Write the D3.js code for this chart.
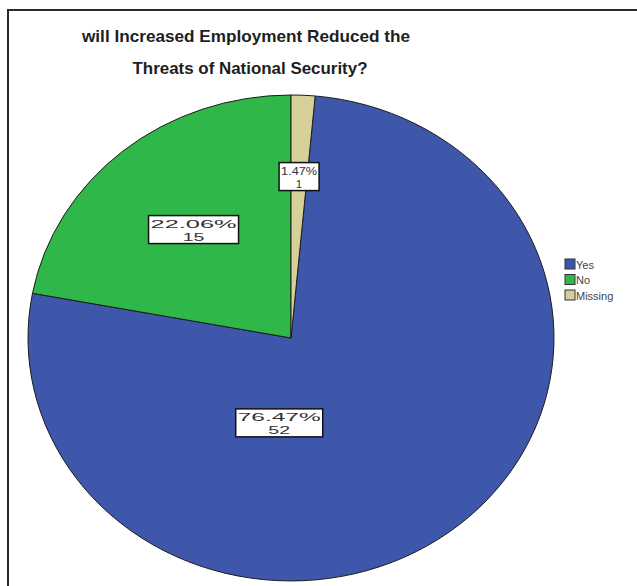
<!DOCTYPE html>
<html>
<head>
<meta charset="utf-8">
<script src="https://cdn.jsdelivr.net/npm/d3@7"></script>
<style>
  html, body { margin: 0; padding: 0; background: #fff; }
  svg { display: block; }
  text { font-family: Arial, "Liberation Sans", sans-serif; }
</style>
</head>
<body>
<script>
// Survey responses
const categories = ["Yes", "No", "Missing"];
const counts = [52, 15, 1];
const percentLabels = ["76.47%", "22.06%", "1.47%"];
const colors = ["#3e57ab", "#2fb74a", "#d7cf98"];
const titleLines = ["will Increased Employment Reduced the", "Threats of National Security?"];

const W = 637, H = 586;
const svg = d3.select("body").append("svg").attr("width", W).attr("height", H);

// frame
svg.append("rect")
  .attr("x", 8).attr("y", 10).attr("width", W + 20).attr("height", H + 20)
  .attr("fill", "#fff").attr("stroke", "#2a2a2a").attr("stroke-width", 2);

// title
const titleLayout = [{ cx: 246, y: 42, len: 328 }, { cx: 250, y: 74, len: 235 }];
svg.selectAll("text.title").data(titleLines).join("text")
  .attr("class", "title")
  .attr("x", (d, i) => titleLayout[i].cx - titleLayout[i].len / 2)
  .attr("y", (d, i) => titleLayout[i].y)
  .attr("textLength", (d, i) => titleLayout[i].len)
  .attr("lengthAdjust", "spacingAndGlyphs")
  .attr("font-size", 16.5).attr("font-weight", "bold").attr("fill", "#1e1e1e")
  .text(d => d);

// pie (drawn on a unit circle, stretched into an ellipse)
const cx = 291, cy = 338, rx = 263, ry = 243;
const total = d3.sum(counts);
const offset = 2 * Math.PI * counts[2] / total; // "Missing" sits just right of 12 o'clock
const pie = d3.pie().sort(null).value(d => d.value)
  .startAngle(offset).endAngle(2 * Math.PI + offset);
const data = categories.map((c, i) => ({ cat: c, value: counts[i], pct: percentLabels[i], color: colors[i] }));
const arcs = pie(data);
const arc = d3.arc().innerRadius(0).outerRadius(1);

const g = svg.append("g").attr("transform", `translate(${cx},${cy}) scale(${rx},${ry})`);
g.selectAll("path").data(arcs).join("path")
  .attr("d", arc)
  .attr("fill", d => d.data.color)
  .attr("stroke", "#1c1c1c").attr("stroke-width", 1)
  .attr("vector-effect", "non-scaling-stroke");

// value labels: polar placement on the unit circle
const labelPlace = {
  Yes: { angle: 2 * Math.PI * 0.51, r: 0.35, w: 87, dx: -6 },
  No: { angle: null, r: 0.58, w: 90, dx: 0 },
  Missing: { angle: null, r: 0.665, w: 40, dx: 0 }
};
const labels = svg.append("g");
arcs.forEach(a => {
  const p = labelPlace[a.data.cat];
  const ang = p.angle === null ? (a.startAngle + a.endAngle) / 2 : p.angle;
  const x = cx + Math.sin(ang) * rx * p.r + p.dx;
  const y = cy - Math.cos(ang) * ry * p.r;
  const h = 28;
  const gl = labels.append("g").attr("transform", `translate(${x},${y})`);
  gl.append("rect")
    .attr("x", -p.w / 2).attr("y", -h / 2).attr("width", p.w).attr("height", h)
    .attr("fill", "#fff").attr("stroke", "#111").attr("stroke-width", 1.5);
  gl.append("text")
    .attr("x", -p.w / 2 + 2).attr("y", -2)
    .attr("textLength", p.w - 4).attr("lengthAdjust", "spacingAndGlyphs")
    .attr("font-size", 11.5).attr("fill", "#333")
    .text(a.data.pct);
  gl.append("text")
    .attr("x", 0).attr("y", 11).attr("text-anchor", "middle")
    .attr("font-size", 11.5).attr("fill", "#333")
    .attr("transform", a.data.cat === "Missing" ? null : "scale(1.7,1)")
    .text(a.data.value);
});

// legend
const leg = svg.append("g").attr("transform", "translate(565,259)");
const li = leg.selectAll("g").data(data).join("g")
  .attr("transform", (d, i) => `translate(0,${i * 15.5})`);
li.append("rect").attr("width", 10).attr("height", 10)
  .attr("fill", d => d.color).attr("stroke", "#333").attr("stroke-width", 1);
li.append("text").attr("x", 11).attr("y", 9.5)
  .attr("font-size", 11).attr("fill", "#444")
  .text(d => d.cat);
</script>
</body>
</html>
